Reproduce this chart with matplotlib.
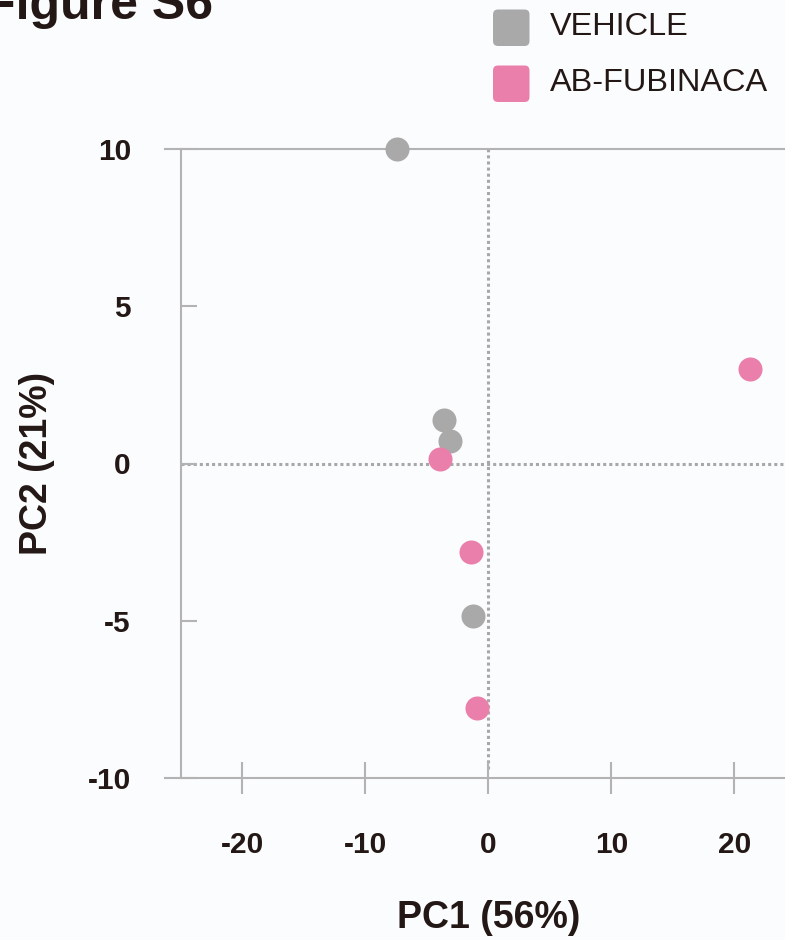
import matplotlib.pyplot as plt
from matplotlib.patches import FancyBboxPatch

# PCA scores
vehicle_pc1 = [-7.45, -3.65, -3.1, -1.3]
vehicle_pc2 = [10.0, 1.37, 0.70, -4.86]
fubinaca_pc1 = [-3.95, -1.45, -0.9, 21.3]
fubinaca_pc2 = [0.13, -2.80, -7.76, 3.02]

group_names = ["VEHICLE", "AB-FUBINACA"]
group_colors = ["#a9a9a9", "#ea7fab"]

x_ticks = [-20, -10, 0, 10, 20]
y_ticks = [-10, -5, 0, 5, 10]

text_color = "#231815"
axis_gray = "#b3b3b3"
bg = "#fbfcfe"

plt.rcParams['font.family'] = ['Liberation Sans', 'DejaVu Sans']
plt.rcParams['axes.unicode_minus'] = False

fig = plt.figure(figsize=(7.85, 9.4), dpi=100, facecolor=bg)
# axes box in pixels: left 165, right 796, top 149, bottom 778
W, H = 785, 940
x_left, x_right = -26.3, 25.0
ax = fig.add_axes([165 / W, 1 - 778 / H, 631 / W, 629 / H])
ax.set_facecolor(bg)
ax.set_xlim(x_left, x_right)
ax.set_ylim(-10, 10)

# zero lines
ax.plot([0, 0], [-9.7, 10], color="#a8a8a8", lw=2.2, ls=(0, (1, 1)), zorder=1)
ax.plot([-25, x_right], [0, 0], color="#a8a8a8", lw=2.2, ls=(0, (1, 1)), zorder=1)

ax.scatter(vehicle_pc1, vehicle_pc2, s=300, color=group_colors[0], lw=0,
           zorder=3, clip_on=False)
ax.scatter(fubinaca_pc1, fubinaca_pc2, s=300, color=group_colors[1], lw=0,
           zorder=4, clip_on=False)

# spines
ax.spines['right'].set_visible(False)
ax.spines['left'].set_position(('data', -25))
for s in ['left', 'top', 'bottom']:
    ax.spines[s].set_color(axis_gray)
    ax.spines[s].set_linewidth(1.5)

ax.set_xticks(x_ticks)
ax.set_yticks(y_ticks)
ax.tick_params(axis='x', direction='inout', length=23, width=1.5, color=axis_gray,
               pad=27, labelsize=21.5, labelcolor=text_color)
ax.tick_params(axis='y', direction='in', length=11.5, width=1.5, color=axis_gray,
               pad=36, labelsize=21.5, labelcolor=text_color)
for lab in ax.get_xticklabels() + ax.get_yticklabels():
    lab.set_fontweight('bold')

ax.set_xlabel("PC1 (56%)", fontsize=27, fontweight='bold', color=text_color)
ax.set_ylabel("PC2 (21%)", fontsize=27, fontweight='bold', color=text_color)
ax.xaxis.label.set_va('center')
ax.yaxis.label.set_va('center')
ax.xaxis.set_label_coords((489 - 165) / 631, -(918 - 778) / 629)
ax.yaxis.set_label_coords((37 - 165) / 631, 0.5)

# cropped title
fig.text(-15 / W, 1 - 19 / H, "Figure S6", fontsize=36, fontweight='bold',
         color=text_color, va='baseline', ha='left')

# legend with rounded squares
legend_top = [9.5, 65.5]
for name, color, top in zip(group_names, group_colors, legend_top):
    box = FancyBboxPatch((4.93, 9.4 - (top + 36.5) / 100), 0.365, 0.365,
                         boxstyle="round,pad=0,rounding_size=0.05",
                         transform=fig.dpi_scale_trans, facecolor=color,
                         edgecolor='none')
    fig.patches.append(box)
    fig.text(550 / W, 1 - (top + 17.5) / H, name, fontsize=23.4,
             color=text_color, va='center', ha='left')

plt.savefig("out.png", dpi=100, facecolor=bg)
